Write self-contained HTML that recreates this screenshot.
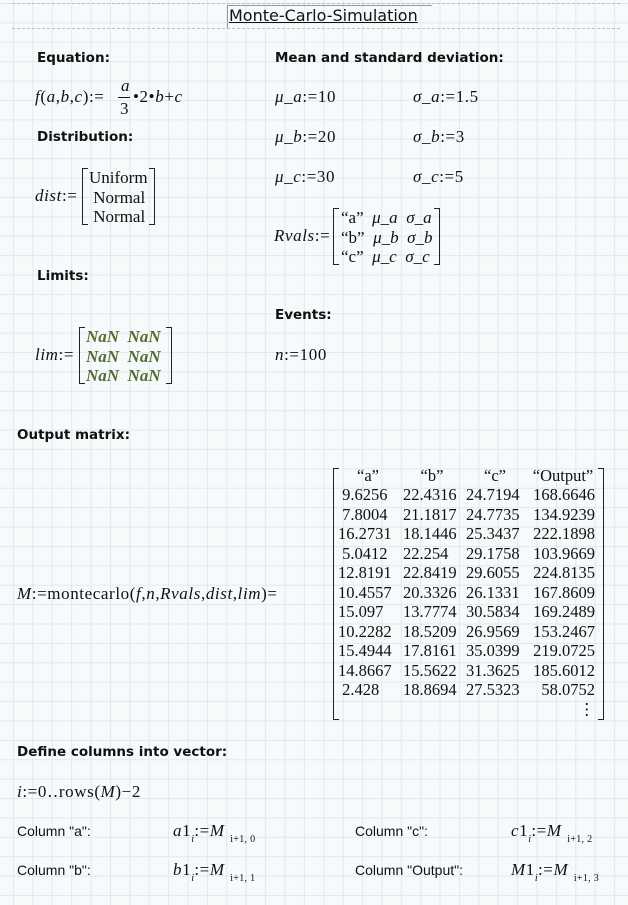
<!DOCTYPE html>
<html><head><meta charset="utf-8"><style>
html,body{margin:0;padding:0}
body{width:628px;height:905px;position:relative;overflow:hidden;background-color:#f6fafa;
background-image:linear-gradient(to right,#dfe9f1 1px,transparent 1px),linear-gradient(to bottom,#dfe9f1 1px,transparent 1px);
background-size:19.4px 19.4px;background-position:13px 3px;}
.t{position:absolute;white-space:nowrap;line-height:16px}
.h{font-family:"DejaVu Sans",sans-serif;font-weight:bold;font-size:13.5px;color:#111}
.m{font-family:"Liberation Serif",serif;font-size:17px;color:#111;letter-spacing:0.6px}
.s{font-family:"Liberation Sans",sans-serif;font-size:14px;color:#111}
i{font-style:italic}
.br{position:absolute;border:1.5px solid #222}
.bl{border-right:none;width:5px}
.bR{border-left:none;width:5px}
.num{position:absolute;font-family:"Liberation Serif",serif;font-size:16.5px;line-height:19.5px;text-align:right;white-space:pre;color:#111}
.g{color:#556b2f;font-weight:bold;font-style:italic}
sub{font-size:10px;vertical-align:-6px;letter-spacing:0.3px}
</style></head><body>
<div style="position:absolute;left:12px;top:3px;width:608px;height:24px;border:1px dashed #b8c0c4;border-left:none;border-right:none"></div>
<div style="position:absolute;left:227px;top:5px;width:204px;height:22px;border:1px solid #999;border-bottom:none;border-right:none"></div>
<div class="t" style="left:229px;top:7px;font-family:'DejaVu Sans',sans-serif;font-size:16px;text-decoration:underline;color:#111;line-height:18px">Monte-Carlo-Simulation</div>

<div class="t h" style="left:37px;top:50px">Equation:</div>
<div class="t h" style="left:275px;top:50px">Mean and standard deviation:</div>
<div class="t m" style="left:35px;top:89px"><i>f</i>(<i>a</i>,<i>b</i>,<i>c</i>):=</div>
<div class="t m" style="left:121px;top:78px"><i>a</i></div>
<div style="position:absolute;left:118px;top:97px;width:12px;border-top:1px solid #111"></div>
<div class="t m" style="left:120px;top:101px">3</div>
<div class="t m" style="left:133px;top:89px">•2•<i>b</i>+<i>c</i></div>
<div class="t h" style="left:37px;top:129px">Distribution:</div>

<div class="t m" style="left:275px;top:89px"><i>μ_a</i>:=10</div>
<div class="t m" style="left:413px;top:89px"><i>σ_a</i>:=1.5</div>
<div class="t m" style="left:275px;top:129px"><i>μ_b</i>:=20</div>
<div class="t m" style="left:413px;top:129px"><i>σ_b</i>:=3</div>
<div class="t m" style="left:275px;top:169px"><i>μ_c</i>:=30</div>
<div class="t m" style="left:413px;top:169px"><i>σ_c</i>:=5</div>

<div class="t m" style="left:35px;top:188px"><i>dist</i>:=</div>
<div class="br bl" style="left:82px;top:168px;height:55px"></div>
<div class="br bR" style="left:149px;top:168px;height:55px"></div>
<div class="t m" style="left:89px;top:168px;line-height:19.5px;letter-spacing:0">Uniform<br>&nbsp;Normal<br>&nbsp;Normal</div>

<div class="t m" style="left:274px;top:228px"><i>Rvals</i>:=</div>
<div class="br bl" style="left:333px;top:208px;height:55px"></div>
<div class="br bR" style="left:434px;top:208px;height:55px"></div>
<div class="t m" style="left:341px;top:208px;line-height:19.5px;letter-spacing:0">“a”&nbsp; <i>μ_a</i>&nbsp; <i>σ_a</i><br>“b”&nbsp; <i>μ_b</i>&nbsp; <i>σ_b</i><br>“c”&nbsp; <i>μ_c</i>&nbsp; <i>σ_c</i></div>

<div class="t h" style="left:37px;top:268px">Limits:</div>
<div class="t h" style="left:275px;top:307px">Events:</div>
<div class="t m" style="left:35px;top:347px"><i>lim</i>:=</div>
<div class="br bl" style="left:79px;top:327px;height:55px"></div>
<div class="br bR" style="left:166px;top:327px;height:55px"></div>
<div class="t m g" style="left:86px;top:327px;line-height:19.5px;letter-spacing:0">NaN&nbsp; NaN<br>NaN&nbsp; NaN<br>NaN&nbsp; NaN</div>
<div class="t m" style="left:275px;top:347px"><i>n</i>:=100</div>

<div class="t h" style="left:17px;top:427px">Output matrix:</div>
<div class="t m" style="left:17px;top:586px"><i>M</i>:=montecarlo(<i>f</i>,<i>n</i>,<i>Rvals</i>,<i>dist</i>,<i>lim</i>)=</div>
<div class="br bl" style="left:333px;top:468px;height:250px"></div>
<div class="br bR" style="left:598px;top:468px;height:250px"></div>
<div class="num" style="left:338px;top:466px;width:60px;text-align:center">“a”</div>
<div class="num" style="left:403px;top:466px;width:58px;text-align:center">“b”</div>
<div class="num" style="left:466px;top:466px;width:58px;text-align:center">“c”</div>
<div class="num" style="left:528px;top:466px;width:70px;text-align:center">“Output”</div>
<div class="num" style="left:338px;top:485px;width:60px;text-align:left">&nbsp;9.6256
&nbsp;7.8004
16.2731
&nbsp;5.0412
12.8191
10.4557
15.097
10.2282
15.4944
14.8667
&nbsp;2.428</div>
<div class="num" style="left:403px;top:485px;width:60px;text-align:left">22.4316
21.1817
18.1446
22.254
22.8419
20.3326
13.7774
18.5209
17.8161
15.5622
18.8694</div>
<div class="num" style="left:466px;top:485px;width:60px;text-align:left">24.7194
24.7735
25.3437
29.1758
29.6055
26.1331
30.5834
26.9569
35.0399
31.3625
27.5323</div>
<div class="num" style="left:527px;top:485px;width:68px">168.6646
134.9239
222.1898
103.9669
224.8135
167.8609
169.2489
153.2467
219.0725
185.6012
58.0752
⋮</div>

<div class="t h" style="left:17px;top:744px">Define columns into vector:</div>
<div class="t m" style="left:17px;top:784px"><i>i</i>:=0‥rows(<i>M</i>)−2</div>
<div class="t s" style="left:17px;top:823px">Column "a":</div>
<div class="t s" style="left:17px;top:862px">Column "b":</div>
<div class="t s" style="left:355px;top:823px">Column "c":</div>
<div class="t s" style="left:355px;top:862px">Column "Output":</div>
<div class="t m" style="left:173px;top:823px"><i>a</i>1<sub><i>i</i></sub>:=<i>M</i><sub>&nbsp;&nbsp;i+1, 0</sub></div>
<div class="t m" style="left:173px;top:862px"><i>b</i>1<sub><i>i</i></sub>:=<i>M</i><sub>&nbsp;&nbsp;i+1, 1</sub></div>
<div class="t m" style="left:511px;top:823px"><i>c</i>1<sub><i>i</i></sub>:=<i>M</i><sub>&nbsp;&nbsp;i+1, 2</sub></div>
<div class="t m" style="left:511px;top:862px"><i>M</i>1<sub><i>i</i></sub>:=<i>M</i><sub>&nbsp;&nbsp;i+1, 3</sub></div>
</body></html>
